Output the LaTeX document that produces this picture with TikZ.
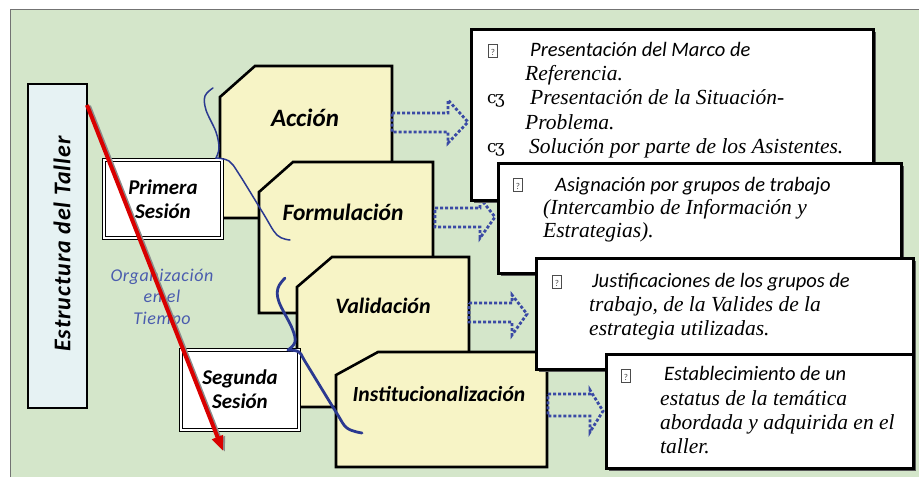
\documentclass[tikz,border=0pt]{standalone}
\usepackage{fontspec}
\setmainfont{Carlito}
\newfontfamily\sansf{Carlito}
\newfontfamily\seriff{Liberation Serif}
\newfontfamily\dejav{DejaVu Serif}
\usetikzlibrary{arrows.meta,shadows}
\definecolor{bggreen}{HTML}{D4E6CA}
\definecolor{stepyellow}{HTML}{F7F4C6}
\definecolor{paleblue}{HTML}{E6F2F3}
\definecolor{bracecol}{HTML}{2B3990}
\definecolor{dotcol}{HTML}{3A4AA5}
\definecolor{orgcol}{HTML}{4A5CAE}
\newcommand\qbox{{\fboxsep=0.7pt\fboxrule=0.5pt\color{black!70}\fbox{\makebox[7pt]{\rule[-1pt]{0pt}{10.5pt}\fontsize{9}{9}\selectfont ?}}}}
\newcommand\csym{{\dejav\fontsize{17}{17}\selectfont c\kern-1.5pt ʒ}}
\newcommand\sit{\sansf\itshape\fontsize{20.5}{24}\selectfont}
\newcommand\rit{\seriff\itshape\fontsize{21.5}{24}\selectfont}
\begin{document}
\begin{tikzpicture}[x=1pt,y=-1pt,
  stepshape/.style={draw=black,line width=2.6pt,fill=stepyellow,line join=miter},
  steplabel/.style={font=\sansf\bfseries\itshape\fontsize{22}{26}\selectfont,inner sep=0},
  sesbox/.style={draw=black,line width=1.1pt,double=white,double distance=1.8pt,fill=white},
  seslabel/.style={font=\sansf\bfseries\itshape\fontsize{21}{24.5}\selectfont,align=center,inner sep=0},
  tbox/.style={draw=black,line width=2.6pt,fill=white,inner sep=0,anchor=north west,
     drop shadow={shadow xshift=3pt,shadow yshift=-3pt,fill=black!65,opacity=1}},
  tline/.style={anchor=base west,inner sep=0},
  bul/.style={anchor=base west,inner sep=0},
  dotarrow/.style={draw=dotcol,line width=2.8pt,dash pattern=on 3pt off 2pt,line join=miter},
  bracestyle/.style={draw=bracecol,line cap=round,line join=round}
]
\useasboundingbox (0,0) rectangle (919,477);
% background
\fill[white] (0,0) rectangle (919,477);
\fill[bggreen] (10,9) rectangle (919,477);
\draw[black!55,line width=0.8pt] (10,477) -- (10,9) -- (919,9);

% title bar
\node[draw=black,line width=2.6pt,fill=paleblue,minimum width=59pt,minimum height=324pt,inner sep=0] (bar) at (57.5,246) {};
\node[rotate=90,inner sep=0,font=\sansf\bfseries\itshape\fontsize{24}{28}\selectfont\addfontfeature{LetterSpace=4}] (bartext) at (62,244) {Estructura del Taller};

% step shapes
\draw[stepshape] (220,97) -- (255,66) -- (392,66) -- (392,218) -- (220,218) -- cycle;
\node[steplabel,font=\sansf\bfseries\itshape\fontsize{25}{28}\selectfont] (accion) at (305,118) {Acción};
\draw[stepshape] (259,192) -- (293,162) -- (433,162) -- (433,313) -- (259,313) -- cycle;
\node[steplabel,font=\sansf\bfseries\itshape\fontsize{23.5}{28}\selectfont] (formul) at (343,212) {Formulación};
\draw[stepshape] (297,287) -- (332,257) -- (469,257) -- (469,407) -- (297,407) -- cycle;
\node[steplabel] (valid) at (383,306) {Validación};
\draw[stepshape] (336,375) -- (378,352) -- (547,352) -- (547,467) -- (336,467) -- cycle;
\node[steplabel,font=\sansf\bfseries\itshape\fontsize{21.6}{26}\selectfont] (instit) at (439,394) {Institucionalización};

% session boxes
\node[sesbox,minimum width=118pt,minimum height=78pt,inner sep=0] (primbox) at (163,199) {};
\node[seslabel] (primera) at (163,199) {Primera\\Sesión};
\node[sesbox,minimum width=118pt,minimum height=80pt,inner sep=0] (segbox) at (240,390) {};
\node[seslabel] (segunda) at (240,389) {Segunda\\Sesión};

% dotted block arrows
\draw[dotarrow] (392,113) -- (448,113) -- (448,100) -- (468,122) -- (448,143) -- (448,132) -- (392,132) -- cycle;
\draw[dotarrow] (435,208) -- (480,208) -- (480,198) -- (495,217) -- (480,238) -- (480,227) -- (435,227) -- cycle;
\draw[dotarrow] (469,303) -- (512,303) -- (512,295) -- (527,314) -- (512,335) -- (512,322) -- (469,322) -- cycle;
\draw[dotarrow] (548,394) -- (590,394) -- (590,390) -- (603,411) -- (590,432) -- (590,416) -- (548,416) -- cycle;

% text boxes
\node[tbox,minimum width=402pt,minimum height=171pt] (box1) at (470,28) {};
\node[bul] (b1a) at (488,55) {\qbox};
\node[tline] (l1a) at (530,56) {\sit Presentación del Marco de};
\node[tline] (l1b) at (525,80) {\rit Referencia.};
\node[bul] (b1b) at (487,103) {\csym};
\node[tline] (l1c) at (530,104) {\rit Presentación de la Situación-};
\node[tline] (l1d) at (525,129) {\rit Problema.};
\node[bul] (b1c) at (487,152) {\csym};
\node[tline] (l1e) at (529,153) {\rit Solución por parte de los Asistentes.};

\node[tbox,minimum width=403pt,minimum height=110pt] (box2) at (497,162) {};
\node[bul] (b2a) at (513,189) {\qbox};
\node[tline] (l2a) at (555,191) {\sit Asignación por grupos de trabajo};
\node[tline] (l2b) at (543,214) {\rit (Intercambio de Información y};
\node[tline] (l2c) at (543,237) {\rit Estrategias).};

\node[tbox,minimum width=377pt,minimum height=111pt] (box3) at (535,257) {};
\node[bul] (b3a) at (552,286) {\qbox};
\node[tline] (l3a) at (592,287) {\sit Justificaciones de los grupos de};
\node[tline] (l3b) at (589,311) {\rit trabajo, de la Valides de la};
\node[tline] (l3c) at (589,335) {\rit estrategia utilizadas.};

\node[tbox,minimum width=307pt,minimum height=114pt] (box4) at (605,353) {};
\node[bul] (b4a) at (621,380) {\qbox};
\node[tline] (l4a) at (664,380) {\sit Establecimiento de un};
\node[tline] (l4b) at (660,405) {\rit estatus de la temática};
\node[tline] (l4c) at (660,429) {\rit abordada y adquirida en el};
\node[tline] (l4d) at (660,453) {\rit taller.};

% time label
\node[align=center,inner sep=0,text=orgcol,font=\sansf\itshape\fontsize{18}{21.5}\selectfont\addfontfeature{LetterSpace=3.5}] (org) at (162,298) {Organización\\en el\\Tiempo};

% braces
\draw[bracestyle,line width=1.5pt] plot[smooth,tension=0.6] coordinates {(213,88) (205,96) (206,110) (216,132) (219,148) (216,158)};
\draw[bracestyle,line width=1.5pt] plot[smooth,tension=0.6] coordinates {(216,158) (229,161) (239,174) (263,213) (277,235) (290,240)};
\draw[bracestyle,line width=2.8pt] plot[smooth,tension=0.6] coordinates {(285,278) (278,288) (279,302) (292,328) (295,342) (288,350)};
\draw[bracestyle,line width=2.8pt] plot[smooth,tension=0.6] coordinates {(288,350) (299,352) (306,363) (336,412) (347,428) (362,433)};

% time arrow
\coordinate (tstart) at (87,105);
\coordinate (tend) at (223,451);
\draw[black!45,line width=4pt,-{Triangle[length=15pt,width=11pt]}] ([xshift=2pt,yshift=-1pt]tstart) -- ([xshift=2pt,yshift=-1pt]tend);
\draw[red!85!black,line width=4pt,-{Triangle[length=15pt,width=11pt]}] (tstart) -- (tend);
\end{tikzpicture}
\end{document}
